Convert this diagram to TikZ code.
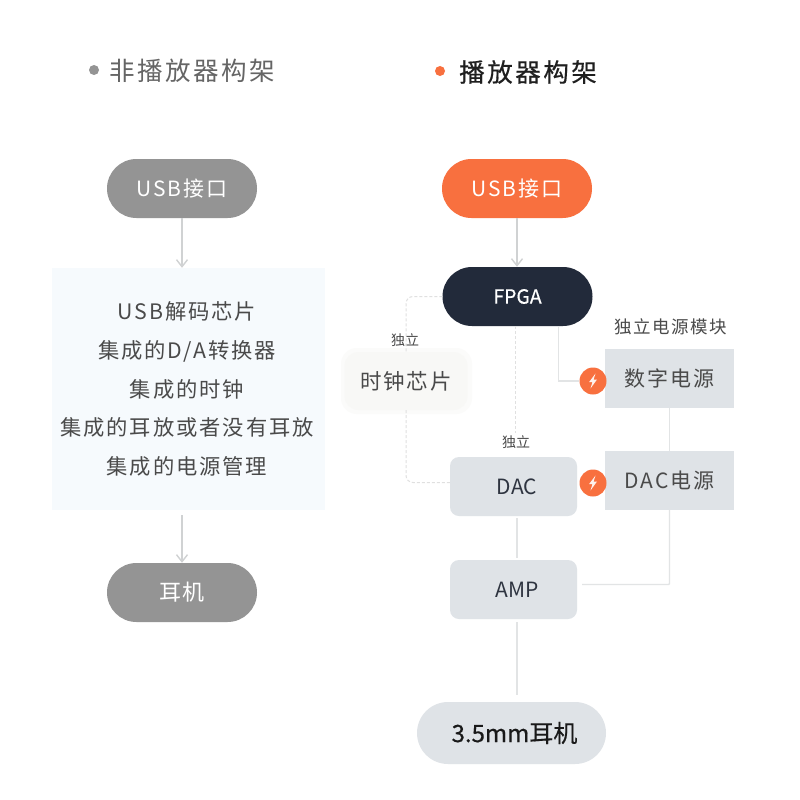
\documentclass[tikz,border=0pt]{standalone}
\usepackage{fontspec}
\setmainfont{Noto Sans CJK SC}
\newfontfamily\spaced[LetterSpace=9]{Noto Sans CJK SC}
\newfontfamily\plain{Noto Sans CJK SC}
\newfontfamily\semibold[FakeBold=0.5]{Noto Sans CJK SC}
\newfontfamily\semispaced[FakeBold=0.5,LetterSpace=10]{Noto Sans CJK SC}
\newfontfamily\headspaced[LetterSpace=10]{Noto Sans CJK SC}
\usetikzlibrary{arrows.meta,calc}
\definecolor{greypill}{HTML}{949494}
\definecolor{orangepill}{HTML}{F8703F}
\definecolor{navypill}{HTML}{222A3A}
\definecolor{palebox}{HTML}{DFE3E7}
\definecolor{wirec}{HTML}{E2E4E5}
\definecolor{dashc}{HTML}{E0E0E0}
\definecolor{inktext}{HTML}{2E3440}
\definecolor{softtext}{HTML}{4A4A4A}
\definecolor{panelc}{HTML}{F6FAFD}
\definecolor{clockc}{HTML}{F8F8F6}
\definecolor{clockedge}{HTML}{FBFBFA}
\tikzset{
  pill/.style={rounded corners=29.5pt,minimum width=150pt,minimum height=59pt,inner sep=0pt,text=white,font=\spaced\fontsize{21}{25}\selectfont},
  softbox/.style={rounded corners=9pt,fill=palebox,minimum width=127pt,minimum height=59pt,inner sep=0pt,text=inktext,font=\plain\fontsize{21}{25}\selectfont},
  powerbox/.style={fill=palebox,minimum width=129pt,minimum height=59pt,inner sep=0pt,text=softtext,font=\spaced\fontsize{21}{25}\selectfont},
  boltdisc/.style={circle,fill=orangepill,minimum size=27pt,inner sep=0pt},
  wire/.style={draw=wirec,line width=1.6pt},
  arrowwire/.style={draw=wirec!92!black,line width=1.6pt,-{Straight Barb[length=7pt,width=11pt,line width=1.4pt]}},
  dashwire/.style={draw=dashc,line width=1pt,densely dashed,rounded corners=7pt},
  tag/.style={text=softtext,inner sep=0pt}
}
\begin{document}
\begin{tikzpicture}[x=1pt,y=-1pt]
\useasboundingbox (0,0) rectangle (800,800);
\fill[white] (0,0) rectangle (800,800);
% left column
\fill[greypill] (94,70) circle (5pt);
\node[font=\headspaced\fontsize{25.5}{30}\selectfont,text=softtext!85!white,anchor=west,inner sep=0pt] (t1) at (109,71) {非播放器构架};
\node[pill,fill=greypill] (usbL) at (182,188.5) {USB接口};
\node[fill=panelc,minimum width=273pt,minimum height=242pt,inner sep=0pt,align=center,text=softtext,font=\spaced\fontsize{21.3}{38.6}\selectfont] (panel) at (188.5,389) {\hspace*{-3pt}USB解码芯片\\\hspace*{-3pt}集成的D/A转换器\\\hspace*{-3pt}集成的时钟\\\hspace*{-3pt}集成的耳放或者没有耳放\\\hspace*{-3pt}集成的电源管理};
\node[pill,fill=greypill,font=\spaced\fontsize{22}{26}\selectfont] (earL) at (182,592.5) {耳机};
\draw[arrowwire] (usbL.south) -- (usbL.south |- panel.north);
\draw[arrowwire] ([yshift=-5pt]panel.south -| earL.north) -- (earL.north);
% right column
\fill[orangepill] (440,71) circle (5pt);
\node[font=\semispaced\fontsize{25.5}{30}\selectfont,text=black!88,anchor=west,inner sep=0pt] (t2) at (459,72) {播放器构架};
\node[pill,fill=orangepill] (usbR) at (517,188.5) {USB接口};
\node[pill,fill=navypill,text=white,font=\semibold\fontsize{19.5}{23}\selectfont] (fpga) at (517.5,296.5) {FPGA};
\fill[clockedge,rounded corners=16pt] (341,348) rectangle (472,414);
\node[fill=clockc,rounded corners=14pt,minimum width=123pt,minimum height=58pt,inner sep=0pt,text=softtext,font=\spaced\fontsize{21.5}{25}\selectfont] (clock) at (406,381) {时钟芯片};
\node[softbox] (dac) at (513.5,486.5) {\hspace*{7pt}DAC};
\node[softbox] (amp) at (513.5,589.5) {\hspace*{7pt}AMP};
\node[powerbox] (pwrD) at (669.5,378.5) {数字电源};
\node[powerbox] (pwrA) at (669.5,480.5) {DAC电源};
\node[pill,fill=palebox,minimum width=189pt,minimum height=62pt,rounded corners=31pt,text=black!90,font=\semibold\fontsize{24}{28}\selectfont] (ear35) at (511.5,733) {\hspace*{6pt}\raisebox{-3pt}{3.5mm耳机}};
\node[boltdisc] (boltA) at (593,381) {};
\node[boltdisc] (boltB) at (593,483) {};
\foreach \b in {boltA,boltB}{
  \fill[white!90!orangepill] ($(\b)+(2.5,-7.5)$) -- ($(\b)+(-4,1.2)$) -- ($(\b)+(-0.6,1.2)$) -- ($(\b)+(-2.5,7.5)$) -- ($(\b)+(4,-1.5)$) -- ($(\b)+(0.6,-1.5)$) -- cycle;
}
\node[tag,font=\plain\fontsize{14}{17}\selectfont] (tagA) at (405,340) {独立};
\node[tag,font=\plain\fontsize{14}{17}\selectfont] (tagB) at (516,442) {独立};
\node[tag,font=\spaced\fontsize{17.5}{21}\selectfont] (tagC) at (671,327) {独立电源模块};
% connectors
\draw[arrowwire] (usbR.south) -- (usbR.south |- fpga.north);
\draw[dashwire] (fpga.west) -| (clock.north);
\draw[dashwire] (clock.south) |- ([yshift=4pt]dac.west);
\draw[dashwire,shorten >=24pt] ([xshift=-2pt]fpga.south) -- ([xshift=-2pt]fpga.south |- dac.north);
\draw[wire,line width=1.2pt] ([xshift=41pt]fpga.south) |- (boltA.west);
\draw[wire,line width=1.2pt] (pwrD.south) -- (pwrA.north);
\draw[wire,line width=1.4pt,shorten >=5pt,rounded corners=1pt] (pwrA.south) |- ([yshift=5pt]amp.east);
\draw[wire,shorten <=2pt,shorten >=2pt] ([xshift=3.5pt]dac.south) -- ([xshift=3.5pt]amp.north);
\draw[wire,shorten <=3pt,shorten >=7pt] ([xshift=3.5pt]amp.south) -- ([xshift=3.5pt]amp.south |- ear35.north);
\end{tikzpicture}
\end{document}
